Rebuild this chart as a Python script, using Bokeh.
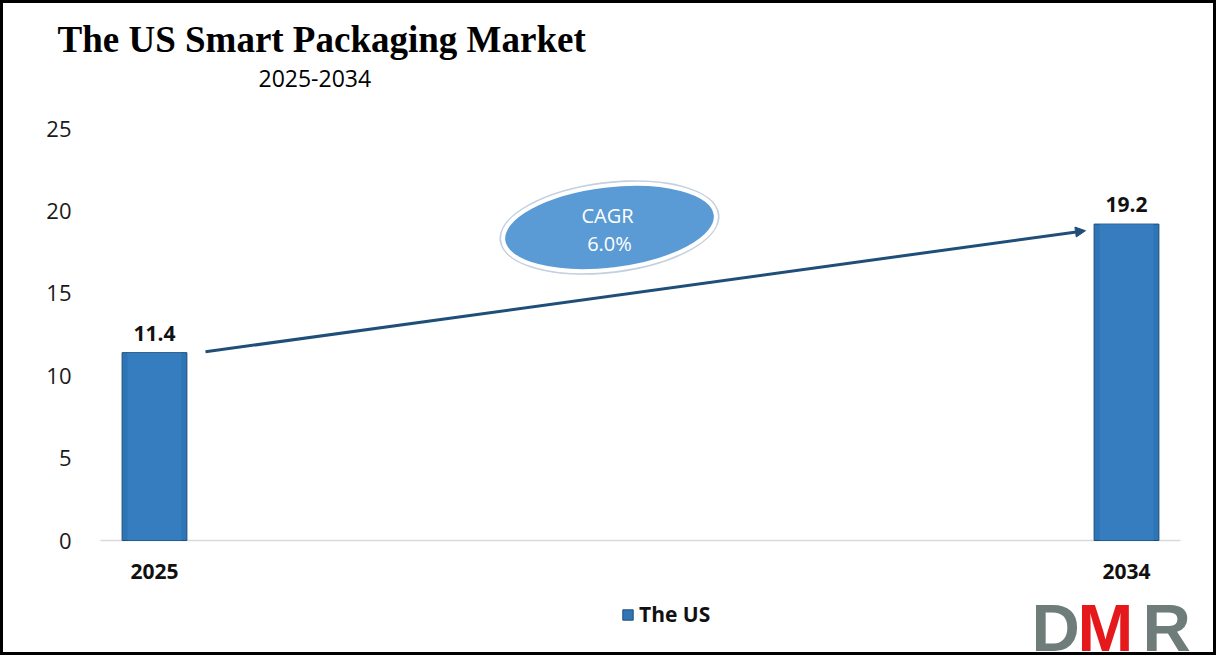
from bokeh.plotting import figure
from bokeh.models import (FixedTicker, Arrow, NormalHead, Legend, LegendItem,
                          ColumnDataSource)
from bokeh.core.properties import value
from bokeh.embed import file_html
from bokeh.resources import INLINE

# ---- data ----
years = [2025, 2034]
values = [11.4, 19.2]
value_labels = ["11.4", "19.2"]
year_labels = {2025: "2025", 2034: "2034"}
y_ticks = [0, 5, 10, 15, 20, 25]
title_text = "The US Smart Packaging Market"
subtitle_text = "2025-2034"
cagr_text = ["CAGR", "6.0%"]
series_name = "The US"
logo_letters = ["D", "M", "R"]
logo_colors = ["#6e7d79", "#e5191c", "#6e7d79"]

# ---- geometry helpers (picture px -> data) ----
X0, X1 = 2024.5, 2034.5
Y0, Y1 = 0, 25
FL, FR, FT, FB = 100, 1180, 128, 540  # plot area on picture
W, H = 1216, 655


def dx(px):
    return X0 + (px - FL) / (FR - FL) * (X1 - X0)


def dy(py):
    return Y0 + (FB - py) / (FB - FT) * (Y1 - Y0)


p = figure(frame_width=W, frame_height=H, x_range=(dx(0), dx(W)), y_range=(dy(H), dy(0)),
           output_backend="svg", toolbar_location=None,
           min_border=0, min_border_left=0, min_border_right=0,
           min_border_top=0, min_border_bottom=0)
p.background_fill_color = "white"
p.border_fill_color = "white"
p.outline_line_color = "black"
p.outline_line_width = 5
p.xgrid.grid_line_color = None
p.ygrid.grid_line_color = None

# axes (fixed inside the canvas)
p.yaxis.fixed_location = dx(FL)
p.yaxis.ticker = FixedTicker(ticks=y_ticks)
p.yaxis.axis_line_color = None
p.yaxis.major_tick_line_color = None
p.yaxis.minor_tick_line_color = None
p.yaxis.major_label_text_font = "Open Sans"
p.yaxis.major_label_text_font_size = "22px"
p.yaxis.major_label_text_color = "#1a1a1a"
p.yaxis.major_label_standoff = 23

p.xaxis.fixed_location = 0
p.xaxis.ticker = FixedTicker(ticks=years)
p.xaxis.major_label_overrides = year_labels
p.xaxis.axis_line_color = None
p.xaxis.major_tick_line_color = None
p.xaxis.minor_tick_line_color = None
p.xaxis.major_label_text_font = "Open Sans"
p.xaxis.major_label_text_font_style = "bold"
p.xaxis.major_label_text_font_size = "21px"
p.xaxis.major_label_text_color = "#111111"
p.xaxis.major_label_standoff = 17

# baseline
p.segment(x0=[X0], y0=[0], x1=[X1], y1=[0], line_color="#d9d9d9", line_width=1.5)

src = ColumnDataSource(dict(x=years, top=values, lab=value_labels))

bars = p.vbar(x="x", top="top", width=0.6, source=src, fill_color="#2e75b6",
              line_color="#1f4e79", line_width=1)
# bevel highlight
p.vbar(x="x", top="top", width=0.5, bottom=0, source=src, fill_color="#3a82c4",
       line_color=None, fill_alpha=0.6)

p.text(x="x", y="top", text="lab", source=src, text_align="center",
       text_baseline="bottom", y_offset=-12, text_font=value("Open Sans"),
       text_font_style="bold", text_font_size="21px", text_color="#111111")

# arrow
p.add_layout(Arrow(end=NormalHead(size=10, fill_color="#1f4e79", line_color="#1f4e79"),
                   x_start=dx(205), y_start=values[0] + 0.05,
                   x_end=dx(1085), y_end=values[1] - 0.4,
                   line_color="#1f4e79", line_width=3))

# CAGR ellipse
ex, ey = dx(609), dy(227)
ew = 214 / (FR - FL) * (X1 - X0)
eh = 84 / (FB - FT) * (Y1 - Y0)
p.ellipse(x=[ex], y=[ey], width=[ew * 1.035], height=[eh * 1.09], angle=0.12,
          fill_color="#c2d0df", line_color=None)
p.ellipse(x=[ex], y=[ey], width=[ew], height=[eh], angle=0.12,
          fill_color="#5b9bd5", line_color="white", line_width=4)
p.text(x=[dx(607), dx(609)], y=[dy(215), dy(243)], text=cagr_text,
       text_align="center", text_baseline="middle", text_font=value("Open Sans"),
       text_font_size="20px", text_color="white")

# title / subtitle (svg baseline sits ~0.34em low, compensate)
p.text(x=[dx(57)], y=[dy(39)], text=[title_text], text_font=value("Liberation Serif"),
       text_font_style="bold", text_font_size="37px", text_color="black",
       text_baseline="alphabetic", text_align="left")
p.text(x=[dx(258)], y=[dy(78)], text=[subtitle_text], text_font=value("Open Sans"),
       text_font_size="23px", text_color="black",
       text_baseline="alphabetic", text_align="left")

# legend
legend = Legend(items=[LegendItem(label=series_name, renderers=[bars])],
                orientation="horizontal", location=(621, H - 628),
                label_text_font="Open Sans", label_text_font_style="bold",
                label_text_font_size="21px", label_text_color="#111111",
                glyph_width=13, glyph_height=13, border_line_color=None,
                background_fill_alpha=0, padding=0, margin=0, spacing=4)
p.add_layout(legend, "center")

# logo
p.text(x=[dx(1031), dx(1077), dx(1142)], y=[dy(627)] * 3, text=logo_letters,
       text_color=logo_colors, text_font=value("Liberation Sans"), text_font_style="bold",
       text_font_size="67px", text_baseline="alphabetic", text_align="left")

open("out.html", "w").write(file_html(p, INLINE))
